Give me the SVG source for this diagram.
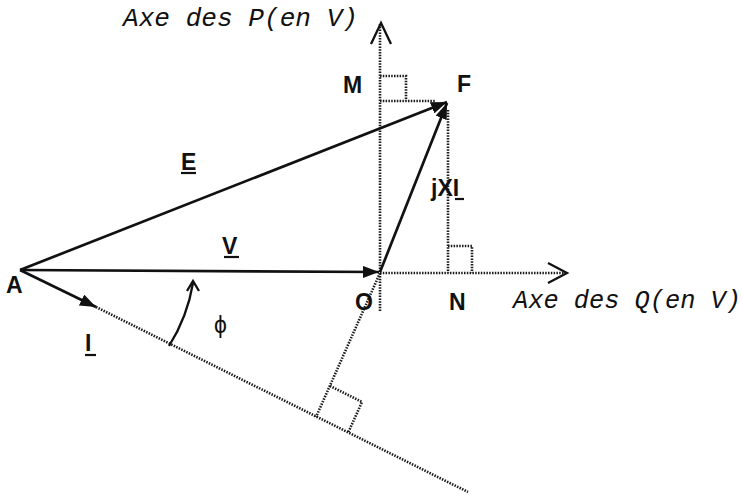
<svg xmlns="http://www.w3.org/2000/svg" width="742" height="495" viewBox="0 0 742 495">
  <style>
    .dot { fill: none; stroke: #1a1a1a; stroke-width: 2.6; stroke-dasharray: 1.5 1.3; }
    .vec { fill: none; stroke: #111; stroke-width: 2.7; }
    .thin { fill: none; stroke: #111; stroke-width: 2.3; }
    .lbl { font-family: "Liberation Sans", Arial, sans-serif; font-weight: bold; font-size: 23px; fill: #111; }
    .axe { font-family: "Liberation Mono", "Courier New", monospace; font-style: italic; font-size: 25px; fill: #111; }
    .ul { stroke: #111; stroke-width: 2.2; }
  </style>
  <defs>
    <marker id="ah" viewBox="0 0 16 12" refX="16" refY="6" markerWidth="16" markerHeight="12" orient="auto" markerUnits="userSpaceOnUse">
      <path d="M0,0 L16,6 L0,12 Z" fill="#111"/>
    </marker>
  </defs>

  <g id="axes">
    <line class="dot" x1="380" y1="24" x2="380" y2="312"/>
    <polyline class="thin" points="371,44 381,23 391,44"/>
    <line class="dot" x1="380" y1="273" x2="565" y2="273"/>
    <polyline class="thin" points="548,263 567,273 548,283"/>
    <text class="axe" x="123" y="26" textLength="235" lengthAdjust="spacingAndGlyphs">Axe des P(en V)</text>
    <text class="axe" x="513" y="308" textLength="228" lengthAdjust="spacingAndGlyphs">Axe des Q(en V)</text>
  </g>

  <g id="construction">
    <line class="dot" x1="380" y1="101" x2="436" y2="101"/>
    <polyline class="dot" points="380,76 406,76 406,101"/>
    <line class="dot" x1="448" y1="110" x2="448" y2="273"/>
    <polyline class="dot" points="448,246 472,246 472,273"/>
    <line class="dot" x1="96" y1="307" x2="468" y2="492"/>
    <line class="dot" x1="380" y1="273" x2="316" y2="417"/>
    <polyline class="dot" points="330,386 362,402 348,433"/>
  </g>

  <g id="connectors">
    <line id="vec-V" class="vec" x1="20" y1="270" x2="379" y2="272" marker-end="url(#ah)"/>
    <line id="vec-E" class="vec" x1="20" y1="270" x2="447" y2="102" marker-end="url(#ah)"/>
    <line id="vec-jXI" class="vec" x1="380" y1="272" x2="447" y2="103" marker-end="url(#ah)"/>
    <line id="vec-I" class="vec" x1="20" y1="270" x2="96" y2="307" marker-end="url(#ah)"/>
    <path id="arc-phi" class="thin" d="M169,346 A170 170 0 0 0 193,283"/>
    <polyline class="thin" points="187,291 193,281 199,291"/>
  </g>

  <g id="node-A"><text class="lbl" x="6" y="293">A</text></g>
  <g id="node-O"><text class="lbl" x="355" y="310">O</text></g>
  <g id="node-N"><text class="lbl" x="449" y="310">N</text></g>
  <g id="node-M"><text class="lbl" x="343" y="93">M</text></g>
  <g id="node-F"><text class="lbl" x="457" y="92">F</text></g>
  <g id="label-E"><text class="lbl" x="181" y="170">E</text><line class="ul" x1="181" y1="173" x2="196" y2="173"/></g>
  <g id="label-V"><text class="lbl" x="222" y="254">V</text><line class="ul" x1="224" y1="257" x2="239" y2="257"/></g>
  <g id="label-jXI"><text class="lbl" x="431" y="196">jXI</text><line class="ul" x1="455" y1="199" x2="464" y2="199"/></g>
  <g id="label-I"><text class="lbl" x="85" y="351">I</text><line class="ul" x1="85" y1="355" x2="96" y2="355"/></g>
  <g id="label-phi"><text class="lbl" x="214" y="333" style="font-weight:normal">ϕ</text></g>
</svg>
